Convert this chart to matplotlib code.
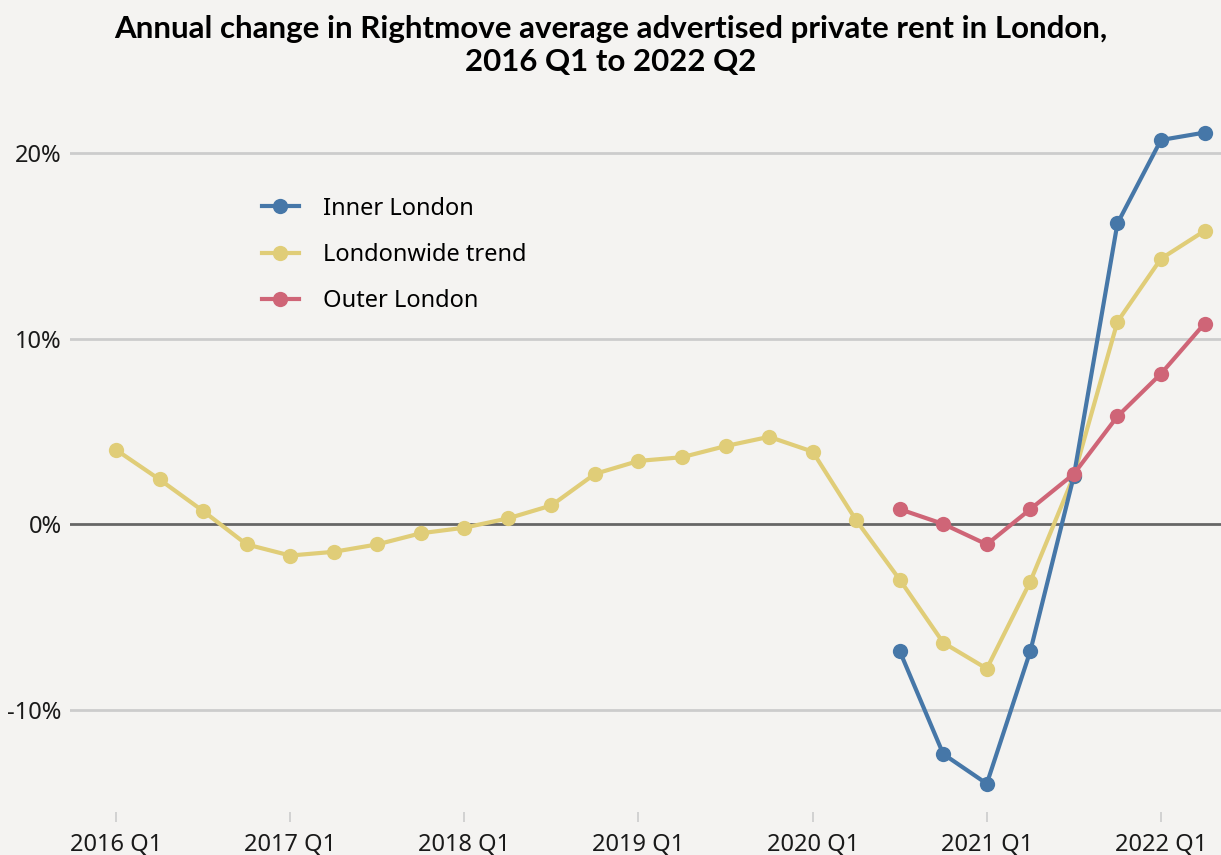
import matplotlib
matplotlib.use("Agg")
from matplotlib import pyplot as plt
import numpy as np

# quarters 2016 Q1 .. 2022 Q2
quarters = [f"{y} Q{q}" for y in range(2016, 2023) for q in range(1, 5)][:26]

londonwide = [4.0, 2.4, 0.7, -1.1, -1.7, -1.5, -1.1, -0.5, -0.2, 0.3, 1.0, 2.7,
              3.4, 3.6, 4.2, 4.7, 3.9, 0.2, -3.0, -6.4, -7.8, -3.1, 2.6, 10.9,
              14.3, 15.8]
inner_start = 18
inner = [-6.85, -12.4, -14.0, -6.85, 2.6, 16.2, 20.7, 21.1]
outer_start = 18
outer = [0.8, 0.0, -1.1, 0.8, 2.7, 5.8, 8.1, 10.8]

tick_labels = ["2016 Q1", "2017 Q1", "2018 Q1", "2019 Q1", "2020 Q1", "2021 Q1", "2022 Q1"]

BG = '#f4f3f1'
C_INNER = '#4677a8'
C_LW = '#e0cd78'
C_OUTER = '#cf6577'

plt.rcParams['font.family'] = ['Noto Sans', 'DejaVu Sans']

fig = plt.figure(figsize=(12.21, 8.55), dpi=100, facecolor=BG)
ax = fig.add_axes([70/1221, 1 - 812/855, 1 - 70/1221, (812-110)/855])
ax.set_facecolor(BG)

x_all = np.arange(len(quarters))
x_inner = np.arange(inner_start, inner_start + len(inner))
x_outer = np.arange(outer_start, outer_start + len(outer))

for v in [-10, 10, 20]:
    ax.axhline(v, color='#cccccc', lw=2, zorder=0)
ax.axhline(0, color='#666666', lw=2, zorder=1)

kw = dict(lw=3, marker='o', markersize=11, markeredgewidth=0)
ax.plot(x_all, londonwide, color=C_LW, label='Londonwide trend', zorder=3, **kw)
ax.plot(x_inner, inner, color=C_INNER, label='Inner London', zorder=4, **kw)
ax.plot(x_outer, outer, color=C_OUTER, label='Outer London', zorder=5, **kw)

ax.set_xlim((70-116)/43.54, (1221-116)/43.54)
ax.set_ylim((524-812)/18.55, (524-110)/18.55)

ax.set_xticks([quarters.index(t) for t in tick_labels])
ax.set_xticklabels(tick_labels)
ax.set_yticks([-10, 0, 10, 20])
ax.set_yticklabels(['-10%', '0%', '10%', '20%'])
ax.tick_params(axis='x', length=7, width=1.2, color='#cccccc', pad=8, labelsize=17, labelcolor='#1a1a1a')
ax.tick_params(axis='y', length=0, pad=6, labelsize=17, labelcolor='#1a1a1a')
for s in ax.spines.values():
    s.set_visible(False)

h, l = ax.get_legend_handles_labels()
order = [1, 0, 2]
ax.legend([h[i] for i in order], [l[i] for i in order], loc='upper left',
          bbox_to_anchor=(0.148, 0.907), frameon=False, fontsize=17,
          handlelength=1.6, labelspacing=0.95, handletextpad=1.0)

fig.text(0.5, 0.982, 'Annual change in Rightmove average advertised private rent in London,\n2016 Q1 to 2022 Q2',
         ha='center', va='top', fontsize=22.5, fontweight='bold', linespacing=1.2,
         family=['Lato', 'DejaVu Sans'])

fig.savefig('out.png', dpi=100, facecolor=BG)
